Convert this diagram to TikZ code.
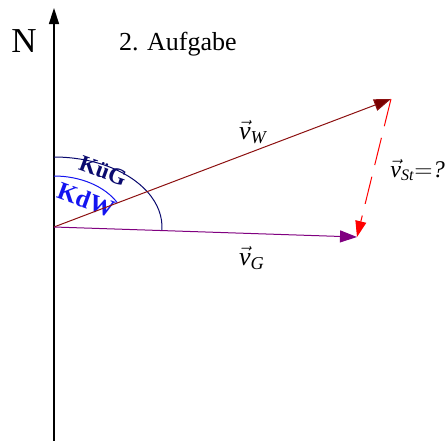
\documentclass[tikz,border=0pt]{standalone}
\usepackage{amsmath}
\usepackage{fontspec}
\setmainfont{Liberation Serif}
\usetikzlibrary{arrows.meta}
\definecolor{windRed}{RGB}{140,16,16}
\definecolor{windRedDark}{RGB}{120,0,0}
\definecolor{groundPurple}{RGB}{128,0,128}
\definecolor{kuegNavy}{RGB}{10,10,110}
\definecolor{kdwBlue}{RGB}{20,20,240}
\definecolor{currentRed}{RGB}{255,0,0}

\begin{document}
\begin{tikzpicture}[x=0.5pt,y=0.5pt]
\useasboundingbox (-54,-214) rectangle (393,227);
\coordinate (O) at (0,0);
\coordinate (Nfoot) at (0,-214);
\coordinate (Ntip) at (0,219);
\coordinate (W) at (337,128);
\coordinate (G) at (303,-10);

% north axis
\draw[black, line width=0.75pt, -{Triangle[length=8pt,width=5pt]}] (Nfoot)--(Ntip);
\node[font=\fontsize{17.5}{20}\selectfont] (north) at (-30,186) {N};
\node[font=\fontsize{13}{15}\selectfont, anchor=base west] (title) at (58,177) {2. Aufgabe};

% angle arcs
\draw[kuegNavy, line width=0.5pt] (0,70) arc[start angle=90, end angle=-3, x radius=108, y radius=70];
\draw[kdwBlue, line width=0.5pt] (0,51) arc[start angle=90, end angle=28.4, x radius=72, y radius=51];
\node[kuegNavy, font=\fontsize{11.5}{13}\bfseries, rotate=-20, inner sep=0pt] (kueg) at (49,56) {KüG};
\node[kdwBlue, font=\fontsize{12.5}{14}\bfseries, rotate=-20, inner sep=0pt] (kdw) at (32,27) {KdW};

% vectors
\draw[windRed, line width=0.5pt, -{Triangle[length=8.5pt,width=6pt,fill=windRedDark]}] (O)--(W);
\draw[groundPurple, line width=0.5pt, -{Triangle[length=8.5pt,width=6pt]}] (O)--(G);
\draw[currentRed, line width=0.5pt, dash pattern=on 14pt off 6pt, -{Triangle[length=8pt,width=5.5pt]}] (W)--(G);

\node[font=\fontsize{13}{15}\selectfont] (vw) at (199,95) {$\vec{\textit{v}}_{\textit{W}}$};
\node[font=\fontsize{13}{15}\selectfont] (vg) at (198,-31) {$\vec{\textit{v}}_{\textit{G}}$};
\node[font=\fontsize{12}{14}\selectfont, anchor=west, inner sep=0pt] (vst) at (336,57) {$\vec{\textit{v}}_{\textit{St}}{=}\textit{?}$};
\end{tikzpicture}
\end{document}
